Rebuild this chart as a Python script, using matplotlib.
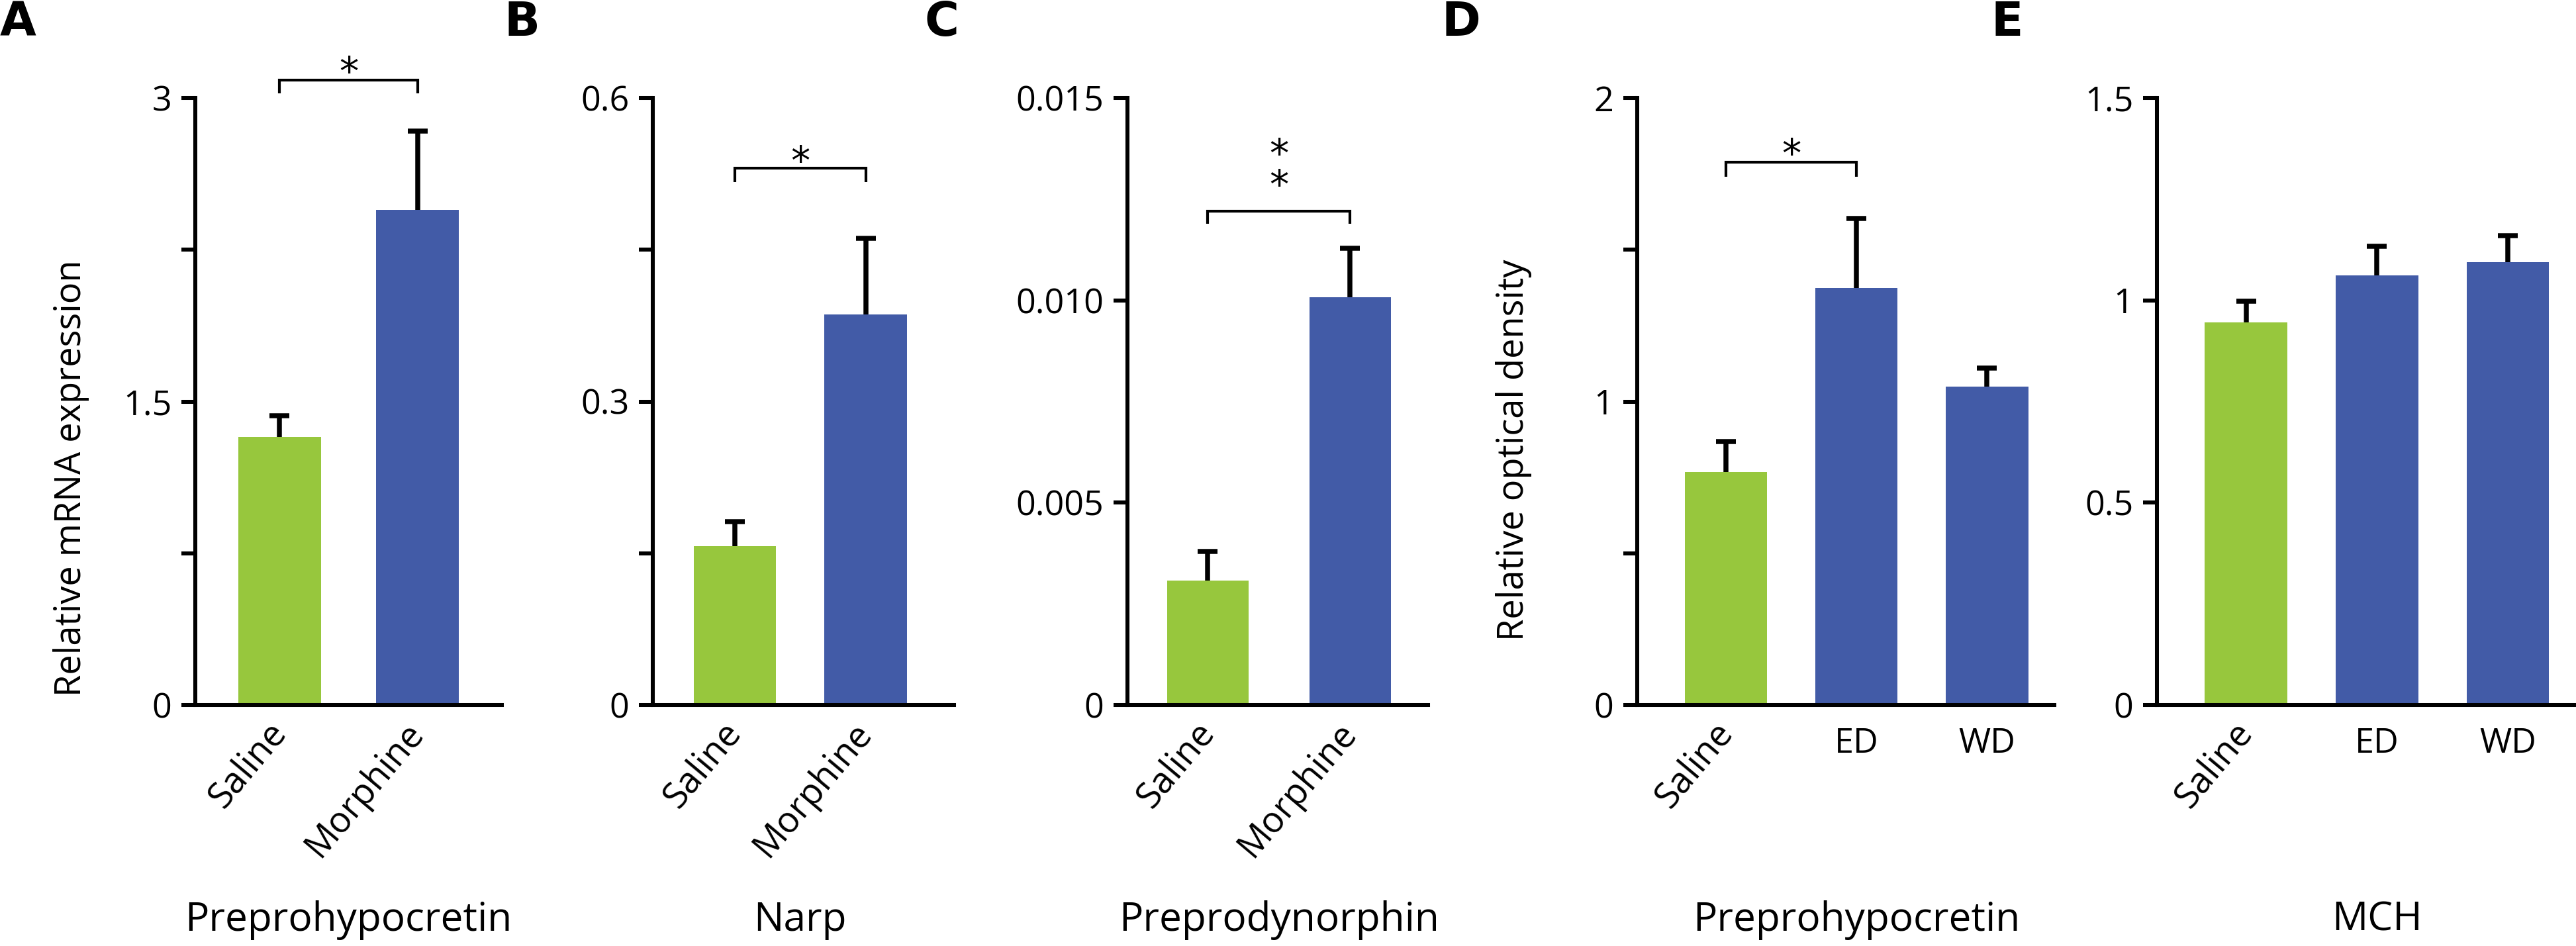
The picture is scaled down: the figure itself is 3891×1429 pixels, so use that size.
import matplotlib
matplotlib.use('Agg')
import matplotlib.pyplot as plt
import matplotlib.transforms as mtransforms

# ---------------- data ----------------
a_groups = ['Saline', 'Morphine']
a_means = [1.325, 2.446]
a_sem = [0.105, 0.389]
a_yticks = [0, 0.75, 1.5, 2.25, 3]
a_yticklabels = ['0', '', '1.5', '', '3']

b_groups = ['Saline', 'Morphine']
b_means = [0.157, 0.386]
b_sem = [0.024, 0.075]
b_yticks = [0, 0.15, 0.3, 0.45, 0.6]
b_yticklabels = ['0', '', '0.3', '', '0.6']

c_groups = ['Saline', 'Morphine']
c_means = [0.00308, 0.01007]
c_sem = [0.00071, 0.00122]
c_yticks = [0, 0.005, 0.010, 0.015]
c_yticklabels = ['0', '0.005', '0.010', '0.015']

d_groups = ['Saline', 'ED', 'WD']
d_means = [0.768, 1.375, 1.050]
d_sem = [0.100, 0.229, 0.061]
d_yticks = [0, 0.5, 1, 1.5, 2]
d_yticklabels = ['0', '', '1', '', '2']

e_groups = ['Saline', 'ED', 'WD']
e_means = [0.946, 1.061, 1.095]
e_sem = [0.052, 0.072, 0.064]
e_yticks = [0, 0.5, 1, 1.5]
e_yticklabels = ['0', '0.5', '1', '1.5']

panel_letters = ['A', 'B', 'C', 'D', 'E']
gene_names = ['Preprohypocretin', 'Narp', 'Preprodynorphin', 'Preprohypocretin', 'MCH']
ylabels = ['Relative mRNA expression', None, None, 'Relative optical density', None]
# significance: (bracket y, tip y, star text, star centre y)
sig_a = (3.088, 3.023, '*', 3.172)
sig_b = (0.5305, 0.517, '*', 0.546)
sig_c = (0.0122, 0.01189, '*\n*', 0.01306)
sig_d = (1.789, 1.741, '*', 1.843)
sig_e = None

# ---------------- style / layout ----------------
W, H = 3891, 1429
DPI = 300
GREEN = '#97C73D'
BLUE = '#425BA7'
LW = 1.45
ELW = 1.8
NUMFONT = ['Open Sans', 'DejaVu Sans']
LBLFONT = ['Open Sans', 'DejaVu Sans']

fig = plt.figure(figsize=(W / DPI, H / DPI), dpi=DPI)

def fx(px):
    return px / W

def fy(py):
    return 1 - py / H

y0_px, ytop_px = 1065, 148
# left px, right px, xlim, bar width
layout = [
    (295, 758, (-0.61, 1.61), 0.60),
    (986, 1441, (-0.628, 1.676), 0.63),
    (1703, 2157, (-0.565, 1.547), 0.57),
    (2473, 3103, (-0.68, 2.515), 0.63),
    (3258, 3891, (-0.68, 2.52), 0.63),
]
panels = [
    (a_groups, a_means, a_sem, a_yticks, a_yticklabels, sig_a),
    (b_groups, b_means, b_sem, b_yticks, b_yticklabels, sig_b),
    (c_groups, c_means, c_sem, c_yticks, c_yticklabels, sig_c),
    (d_groups, d_means, d_sem, d_yticks, d_yticklabels, sig_d),
    (e_groups, e_means, e_sem, e_yticks, e_yticklabels, sig_e),
]
letter_px = [0, 762, 1396, 2178, 3008]

for i, ((groups, means, sems, yt, ytl, sig), (lpx, rpx, xl, bw)) in enumerate(zip(panels, layout)):
    ax = fig.add_axes([fx(lpx), fy(y0_px), fx(rpx) - fx(lpx), fy(ytop_px) - fy(y0_px)])
    x = list(range(len(groups)))
    colors = [GREEN] + [BLUE] * (len(groups) - 1)
    # symmetric error bars drawn behind the bars: only the upper half shows
    ax.errorbar(x, means, yerr=sems, fmt='none', ecolor='black',
                elinewidth=ELW, capsize=3.6, capthick=ELW, zorder=1)
    ax.bar(x, means, width=bw, color=colors, zorder=2)
    ax.set_xlim(*xl)
    ax.set_ylim(yt[0], yt[-1])
    ax.set_yticks(yt)
    ax.set_yticklabels(ytl, fontfamily=NUMFONT, fontsize=12.5)
    ax.set_xticks(x)
    ax.set_xticklabels(groups, fontfamily=LBLFONT, fontsize=13)
    for j, lab in enumerate(ax.get_xticklabels()):
        if groups[j] in ('Saline', 'Morphine'):
            lab.set_rotation(50)
            lab.set_ha('right')
            lab.set_va('center')
            lab.set_rotation_mode('anchor')
        else:
            lab.set_fontsize(12.5)
    for s in ('top', 'right'):
        ax.spines[s].set_visible(False)
    for s in ('left', 'bottom'):
        ax.spines[s].set_linewidth(LW)
        ax.spines[s].set_capstyle('projecting')
    ax.tick_params(axis='y', length=5, width=LW, pad=3.5, direction='out')
    ax.tick_params(axis='x', length=0, pad=8)
    ax.patch.set_visible(False)

    if sig is not None:
        by, ty, star, sy = sig
        ax.plot([0, 0, 1, 1], [ty, by, by, ty], color='black', lw=1.0, clip_on=False,
                solid_capstyle='butt', solid_joinstyle='miter')
        ax.annotate(star, xy=(0.5, sy), xytext=(0, -7.7), textcoords='offset points',
                    ha='center', va='baseline', fontsize=14, fontfamily=['DejaVu Sans'],
                    linespacing=0.78, annotation_clip=False)

    # gene name below, centered on the bars
    trans = mtransforms.blended_transform_factory(ax.transData, fig.transFigure)
    fig.text((x[0] + x[-1]) / 2, fy(1390), gene_names[i], transform=trans,
             ha='center', va='center', fontsize=14.5, fontfamily=LBLFONT)

    if ylabels[i]:
        fig.text(fx(lpx - 187), fy(392), ylabels[i], rotation=90, ha='center', va='top',
                 fontsize=13, fontfamily=LBLFONT)

    fig.text(fx(letter_px[i]), 1.0, panel_letters[i], ha='left', va='top',
             fontsize=17, fontweight='bold', fontfamily=['DejaVu Sans'])

fig.savefig('out.png', dpi=DPI)
